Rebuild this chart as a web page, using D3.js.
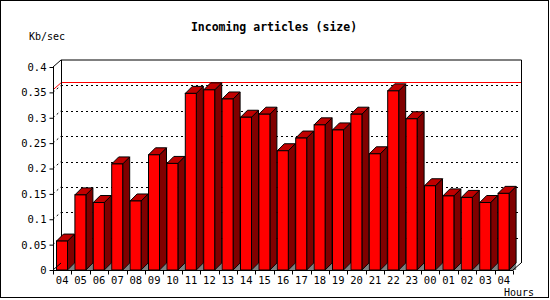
<!DOCTYPE html>
<html>
<head>
<meta charset="utf-8">
<script src="https://cdn.jsdelivr.net/npm/d3@7"></script>
<style>
  body { margin: 0; background: #fff; }
  svg { display: block; }
  text { font-family: "DejaVu Sans Mono", "Liberation Mono", monospace; }
</style>
</head>
<body>
<div id="chart"></div>
<script>
// data
const hours = ["04","05","06","07","08","09","10","11","12","13","14","15","16",
               "17","18","19","20","21","22","23","00","01","02","03","04"];
const kbPerSec = [0.057, 0.148, 0.133, 0.209, 0.136, 0.227, 0.210, 0.348, 0.355,
                  0.337, 0.301, 0.307, 0.235, 0.260, 0.286, 0.276, 0.307, 0.229,
                  0.353, 0.298, 0.166, 0.146, 0.143, 0.133, 0.151];
const yTicks = [0, 0.05, 0.1, 0.15, 0.2, 0.25, 0.3, 0.35, 0.4];
const yTickLabels = ["0", "0.05", "0.1", "0.15", "0.2", "0.25", "0.3", "0.35", "0.4"];

const W = 550, H = 300;
const plotLeft = 53, plotRight = 513, plotBottom = 270, plotTop = 67;
const depthX = 8, depthY = 7;   // wall depth
const barDX = 7, barDY = 7;     // bar depth

const svg = d3.select("#chart").append("svg")
  .attr("width", W).attr("height", H);

// outer frame
svg.append("rect")
  .attr("x", 0.5).attr("y", 0.5)
  .attr("width", W - 2).attr("height", H - 3)
  .attr("fill", "#fff").attr("stroke", "#000");

const x = d3.scaleBand()
  .domain(d3.range(hours.length))
  .range([plotLeft, plotRight])
  .padding(0);

const y = d3.scaleLinear()
  .domain([0, 0.4])
  .range([plotBottom, plotTop]);

// title + axis names
svg.append("text")
  .attr("x", 274).attr("y", 31)
  .attr("text-anchor", "middle")
  .attr("font-size", "11.5px").attr("font-weight", "bold")
  .text("Incoming articles (size)");

svg.append("text")
  .attr("x", 29).attr("y", 40)
  .attr("font-size", "10px")
  .text("Kb/sec");

svg.append("text")
  .attr("x", 504).attr("y", 296)
  .attr("font-size", "10px")
  .text("Hours");

const g = svg.append("g");

// back wall grid lines (dotted), hidden behind bars later
yTicks.slice(1, -1).forEach(v => {
  g.append("line")
    .attr("x1", plotLeft + depthX).attr("x2", plotRight + depthX)
    .attr("y1", Math.round(y(v)) - depthY + 0.5).attr("y2", Math.round(y(v)) - depthY + 0.5)
    .attr("stroke", "#000").attr("stroke-dasharray", "2,3");
  g.append("line")
    .attr("x1", plotLeft).attr("y1", y(v))
    .attr("x2", plotLeft + depthX).attr("y2", y(v) - depthY)
    .attr("stroke", "#000").attr("stroke-dasharray", "2,3");
});

// max value line (red)
const maxV = d3.max(kbPerSec);
g.append("line")
  .attr("x1", plotLeft + depthX).attr("x2", plotRight + depthX)
  .attr("y1", Math.round(y(maxV)) - depthY - 0.5).attr("y2", Math.round(y(maxV)) - depthY - 0.5)
  .attr("stroke", "#ff0000");
g.append("line")
  .attr("x1", plotLeft).attr("y1", y(maxV))
  .attr("x2", plotLeft + depthX).attr("y2", y(maxV) - depthY)
  .attr("stroke", "#ff0000");

// walls
g.append("path")
  .attr("d", `M${plotLeft},${plotTop} L${plotLeft + depthX},${plotTop - depthY} L${plotRight + depthX + 0.5},${plotTop - depthY}
              L${plotRight + depthX + 0.5},${plotBottom - depthY}`)
  .attr("fill", "none").attr("stroke", "#000");
g.append("line")
  .attr("x1", plotLeft + depthX + 0.5).attr("x2", plotLeft + depthX + 0.5)
  .attr("y1", plotTop - depthY).attr("y2", plotBottom - depthY)
  .attr("stroke", "#000");

// bars
const bw = 11;
const off = 3.5;
const bars = g.selectAll(".bar").data(kbPerSec).enter().append("g").attr("class", "bar");

bars.append("path")   // floor shadow
  .attr("d", (d, i) => {
    const x1 = x(i) + off + bw;
    return `M${x1},${plotBottom} L${x1 + barDX},${plotBottom} L${x1 + barDX},${plotBottom - barDY} Z`;
  })
  .attr("fill", "#808080");

bars.append("path")   // side
  .attr("d", (d, i) => {
    const x1 = x(i) + off + bw, yt = y(d);
    return `M${x1},${yt} L${x1 + barDX},${yt - barDY} L${x1 + barDX},${plotBottom - barDY} L${x1},${plotBottom} Z`;
  })
  .attr("fill", "#800000").attr("stroke", "#000").attr("stroke-linejoin", "round");

bars.append("path")   // top
  .attr("d", (d, i) => {
    const x0 = x(i) + off, yt = y(d);
    return `M${x0},${yt} L${x0 + barDX},${yt - barDY} L${x0 + bw + barDX},${yt - barDY} L${x0 + bw},${yt} Z`;
  })
  .attr("fill", "#c00000").attr("stroke", "#000").attr("stroke-linejoin", "round");

bars.append("rect")   // front
  .attr("x", (d, i) => x(i) + off)
  .attr("y", d => y(d))
  .attr("width", bw)
  .attr("height", d => plotBottom - y(d))
  .attr("fill", "#ff0000").attr("stroke", "#000");

// floor edges
g.append("path")
  .attr("d", `M${plotLeft},${plotBottom} L${plotLeft + depthX},${plotBottom - depthY}`)
  .attr("stroke", "#000");
g.append("path")
  .attr("d", `M${plotRight},${plotBottom} L${plotRight + depthX},${plotBottom - depthY}`)
  .attr("stroke", "#000");

// y axis
const yAxis = d3.axisLeft(y)
  .tickValues(yTicks)
  .tickSize(4)
  .tickPadding(3)
  .tickFormat((d, i) => yTickLabels[i]);

const ya = svg.append("g")
  .attr("transform", `translate(${plotLeft + 0.5},0)`)
  .call(yAxis);
ya.select(".domain").remove();
ya.selectAll("line").attr("stroke", "#000");
ya.selectAll("text").attr("font-size", "10.5px").attr("fill", "#000")
  .style("font-family", "'DejaVu Sans Mono', monospace");
ya.append("line")
  .attr("x1", 0).attr("x2", 0).attr("y1", plotTop).attr("y2", plotBottom)
  .attr("stroke", "#000");

// x axis
const xAxis = d3.axisBottom(x)
  .tickSize(0)
  .tickPadding(6)
  .tickFormat(i => hours[i]);

const xa = svg.append("g")
  .attr("transform", `translate(0,${plotBottom + 0.5})`)
  .call(xAxis);
xa.select(".domain").remove();
xa.selectAll("text").attr("font-size", "10.5px").attr("fill", "#000")
  .style("font-family", "'DejaVu Sans Mono', monospace");
xa.append("line")
  .attr("x1", plotLeft).attr("x2", plotRight).attr("y1", 0).attr("y2", 0)
  .attr("stroke", "#000");
xa.selectAll(".xtick")
  .data(d3.range(hours.length + 1))
  .enter().append("line")
  .attr("class", "xtick")
  .attr("x1", i => Math.round(i < hours.length ? x(i) : plotRight) + 0.5)
  .attr("x2", i => Math.round(i < hours.length ? x(i) : plotRight) + 0.5)
  .attr("y1", 0).attr("y2", 4)
  .attr("stroke", "#000");
</script>
</body>
</html>
